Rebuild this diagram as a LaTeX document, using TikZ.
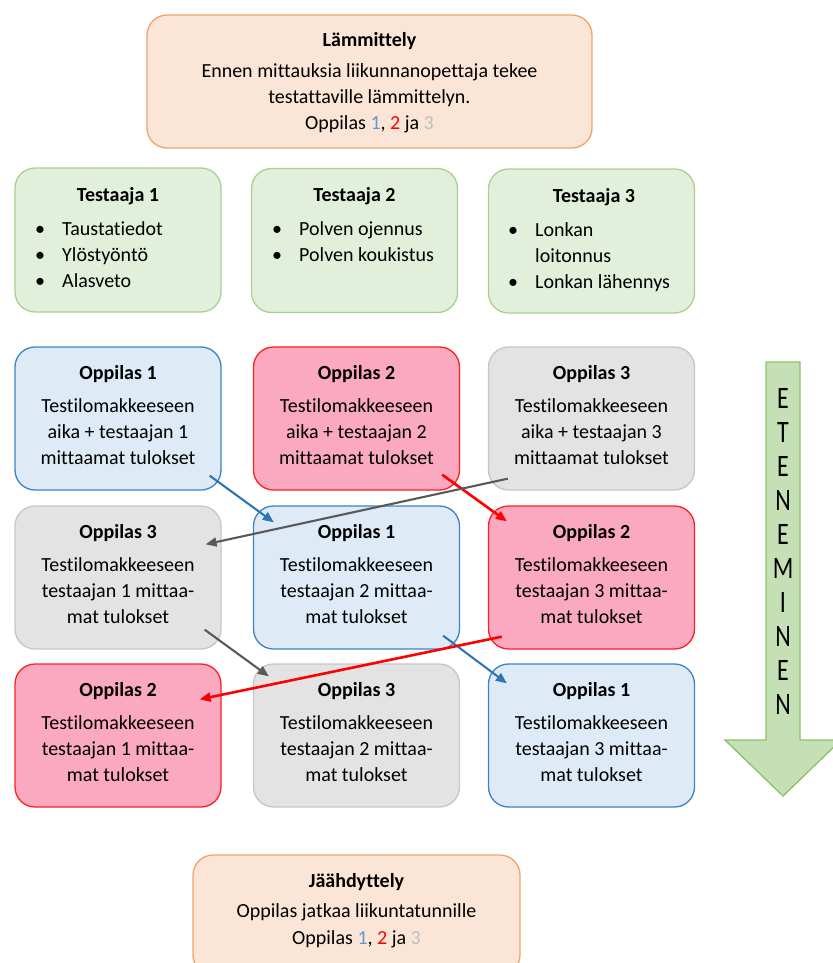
\documentclass[tikz,border=0pt]{standalone}
\usepackage{fontspec}
\setmainfont{Carlito}[Ligatures=NoCommon]
\usetikzlibrary{arrows.meta}
\definecolor{peachF}{HTML}{FBE5D6}
\definecolor{peachD}{HTML}{F2A36C}
\definecolor{greenF}{HTML}{E2EFDA}
\definecolor{greenD}{HTML}{A9D18E}
\definecolor{blueF}{HTML}{DEEBF7}
\definecolor{blueD}{HTML}{3A84C4}
\definecolor{redF}{HTML}{FBA9C1}
\definecolor{redD}{HTML}{FF1F1F}
\definecolor{greyF}{HTML}{E3E3E3}
\definecolor{greyD}{HTML}{C6C6C6}
\definecolor{arrF}{HTML}{C5E0B4}
\definecolor{arrD}{HTML}{8CC068}
\definecolor{numA}{HTML}{5B9BD5}
\definecolor{numB}{HTML}{FF0000}
\definecolor{numC}{HTML}{BFBFBF}
\definecolor{lnBlue}{HTML}{2E75B6}
\definecolor{lnGrey}{HTML}{595959}
\definecolor{lnRed}{HTML}{FF0000}
\newcommand\nums{Oppilas \textcolor{numA}{1}, \textcolor{numB}{2} ja \textcolor{numC}{3}}
\newcommand\oppbox[9]{%
  \node[box, fill=#4, draw=#5] (#1) at (#2,#3+71.5) {};
  \node[ttl] (#1t) at (#2,#3+32) {Oppilas #6};
  \node[txt] (#1a) at (#2,#3+65) {#7};
  \node[txt] (#1b) at (#2,#3+91) {#8};
  \node[txt] (#1c) at (#2,#3+117) {#9};
}
\begin{document}
\begin{tikzpicture}[x=1pt,y=-1pt,
  font=\fontsize{20}{26}\selectfont,
  box/.style={rounded corners=20pt, line width=1.3pt, inner sep=0pt,
    minimum width=206pt, minimum height=143pt},
  txt/.style={anchor=base, inner sep=0pt},
  ttl/.style={txt, font=\fontsize{20}{26}\selectfont\bfseries},
  itm/.style={anchor=base west, inner sep=0pt},
  conn/.style={line width=2.1pt, -{Triangle[length=11pt,width=9pt]}},
  lett/.style={inner sep=0pt, font=\fontsize{24}{28}\selectfont}]
\useasboundingbox (0,0) rectangle (832,963);

% top box
\node[box, fill=peachF, draw=peachD, minimum width=445pt, minimum height=133pt] (warm) at (369.5,81.5) {};
\node[ttl] (warmt) at (369.5,47) {Lämmittely};
\node[txt] (warma) at (369.5,78) {Ennen mittauksia liikunnanopettaja tekee};
\node[txt] (warmb) at (369.5,104) {testattaville lämmittelyn.};
\node[txt] (warmc) at (369.5,130) {\nums};

% testers
\node[box, fill=greenF, draw=greenD, minimum height=144pt] (t1) at (118,240) {};
\node[box, fill=greenF, draw=greenD, minimum height=144pt] (t2) at (354.5,240.5) {};
\node[box, fill=greenF, draw=greenD, minimum height=144pt] (t3) at (591.5,241) {};
\node[ttl] (t1t) at (118,201) {Testaaja 1};
\node[ttl] (t2t) at (354.5,201) {Testaaja 2};
\node[ttl] (t3t) at (594,202) {Testaaja 3};
\node[txt] (t1b1) at (40,235) {\textbullet};
\node[txt] (t1b2) at (40,261) {\textbullet};
\node[txt] (t1b3) at (40,287) {\textbullet};
\node[itm] (t1i1) at (62,235) {Taustatiedot};
\node[itm] (t1i2) at (62,261) {Ylöstyöntö};
\node[itm] (t1i3) at (62,287) {Alasveto};
\node[txt] (t2b1) at (277,235) {\textbullet};
\node[txt] (t2b2) at (277,261) {\textbullet};
\node[itm] (t2i1) at (299,235) {Polven ojennus};
\node[itm] (t2i2) at (299,261) {Polven koukistus};
\node[txt] (t3b1) at (513,236) {\textbullet};
\node[txt] (t3b2) at (513,288) {\textbullet};
\node[itm] (t3i1) at (535,236) {Lonkan};
\node[itm] (t3i1b) at (535,262) {loitonnus};
\node[itm] (t3i2) at (535,288) {Lonkan lähennys};

% pupil rows
\oppbox{r1c1}{118}{347}{blueF}{blueD}{1}{Testilomakkeeseen}{aika + testaajan 1}{mittaamat tulokset}
\oppbox{r1c2}{356.5}{347}{redF}{redD}{2}{Testilomakkeeseen}{aika + testaajan 2}{mittaamat tulokset}
\oppbox{r1c3}{591.5}{347}{greyF}{greyD}{3}{Testilomakkeeseen}{aika + testaajan 3}{mittaamat tulokset}
\oppbox{r2c1}{118}{506}{greyF}{greyD}{3}{Testilomakkeeseen}{testaajan 1 mittaa-}{mat tulokset}
\oppbox{r2c2}{356.5}{506}{blueF}{blueD}{1}{Testilomakkeeseen}{testaajan 2 mittaa-}{mat tulokset}
\oppbox{r2c3}{591.5}{506}{redF}{redD}{2}{Testilomakkeeseen}{testaajan 3 mittaa-}{mat tulokset}
\oppbox{r3c1}{118}{664}{redF}{redD}{2}{Testilomakkeeseen}{testaajan 1 mittaa-}{mat tulokset}
\oppbox{r3c2}{356.5}{664}{greyF}{greyD}{3}{Testilomakkeeseen}{testaajan 2 mittaa-}{mat tulokset}
\oppbox{r3c3}{591.5}{664}{blueF}{blueD}{1}{Testilomakkeeseen}{testaajan 3 mittaa-}{mat tulokset}

% bottom box
\node[box, fill=peachF, draw=peachD, minimum width=327pt, minimum height=120pt] (cool) at (356.5,915) {};
\node[ttl] (coolt) at (356.5,887) {Jäähdyttely};
\node[txt] (coola) at (356.5,917) {Oppilas jatkaa liikuntatunnille};
\node[txt] (coolb) at (356.5,944) {\nums};

% connectors
\draw[conn, lnBlue] ([xshift=-12pt,yshift=15pt]r1c1.south east) -- ([xshift=21pt,yshift=-17pt]r2c2.north west);
\draw[conn, lnRed, line width=2.6pt] ([xshift=-18pt,yshift=16pt]r1c2.south east) -- ([xshift=19pt,yshift=-16pt]r2c3.north west);
\draw[conn, lnGrey] ([xshift=20pt,yshift=12pt]r1c3.south west) -- ([xshift=-16pt,yshift=-39pt]r2c1.north east);
\draw[conn, lnGrey] ([xshift=-17pt,yshift=20pt]r2c1.south east) -- ([xshift=16pt,yshift=-13pt]r3c2.north west);
\draw[conn, lnBlue] ([xshift=-17pt,yshift=14pt]r2c2.south east) -- ([xshift=19pt,yshift=-20pt]r3c3.north west);
\draw[conn, lnRed, line width=2.6pt] ([xshift=14pt,yshift=13pt]r2c3.south west) -- ([xshift=-22pt,yshift=-36pt]r3c1.north east);

% progress arrow
\draw[fill=arrF, draw=arrD, line width=1.3pt, line join=miter]
  (766,362) -- (800,362) -- (800,740) -- (841,740) -- (783,796) -- (725,740) -- (766,740) -- cycle;
\foreach \l [count=\i] in {E,T,E,N,E,M,I,N,E,N}
  \node[lett] (let\i) at (783,{398+34.1*(\i-1)}) {\scalebox{1}[1.3]{\l}};
\end{tikzpicture}
\end{document}
